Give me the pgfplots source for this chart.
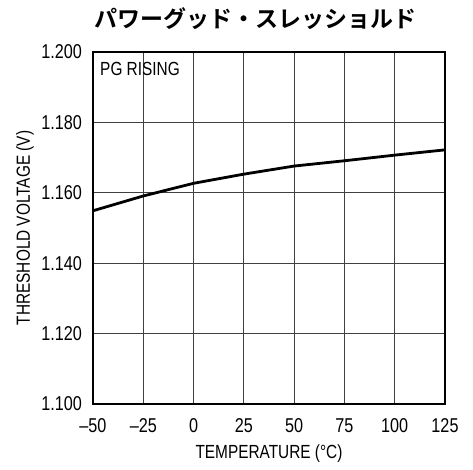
\documentclass[border=0pt]{standalone}
\usepackage{pgfplots}
\pgfplotsset{compat=1.18}
\usepackage{fontspec}
\setmainfont{Liberation Sans}[FakeStretch=0.81]
\newfontfamily\cjk{Noto Sans CJK JP}[BoldFont={* Bold}]
\newcommand\lblfont{\fontsize{19}{22}\selectfont}
\newcommand\tickfont{\fontsize{20}{23}\selectfont}
\begin{document}
\begin{tikzpicture}
\begin{axis}[
  scale only axis,
  width=352pt, height=352pt,
  xmin=-50, xmax=125, ymin=1.100, ymax=1.200,
  xtick={-50,-25,0,25,50,75,100,125},
  xticklabels={--50,--25,0,25,50,75,100,125},
  ytick={1.100,1.120,1.140,1.160,1.180,1.200},
  yticklabels={1.100,1.120,1.140,1.160,1.180,1.200},
  major tick length=0pt,
  grid=major,
  major grid style={line width=0.8pt, black!75},
  axis line style={line width=1.4pt, black},
  tick label style={font=\tickfont},
  xticklabel style={anchor=base, inner sep=0pt, yshift=-28pt},
  yticklabel style={anchor=east, inner sep=0pt, xshift=-11pt},
  label style={font=\lblfont},
  xlabel={TEMPERATURE (\textdegree C)},
  ylabel={THRESHOLD VOLTAGE (V)},
  xlabel style={at={(axis description cs:0.5,0)}, anchor=base, inner sep=0pt, yshift=-54pt},
  ylabel style={at={(axis description cs:-0.179,0.5)}, anchor=base, inner sep=0pt},
  title={\cjk\bfseries パワーグッド・スレッショルド},
  title style={font=\fontsize{23}{26}\selectfont, at={(axis description cs:0.5,1)}, anchor=center, xshift=-13pt, yshift=27pt},
  clip=false,
]
\addplot[line width=2.8pt, black] coordinates {
  (-50,1.1549) (-25,1.1591) (0,1.1627) (25,1.1653)
  (50,1.1676) (75,1.1691) (100,1.1707) (125,1.1722)
};
\node[anchor=west, font=\lblfont, inner sep=0pt]
  at (axis description cs:0.02,0.952) {PG RISING};
\end{axis}
\pgfresetboundingbox
\path[use as bounding box] (-93pt,-65pt) rectangle (380pt,404pt);
\end{tikzpicture}
\end{document}
